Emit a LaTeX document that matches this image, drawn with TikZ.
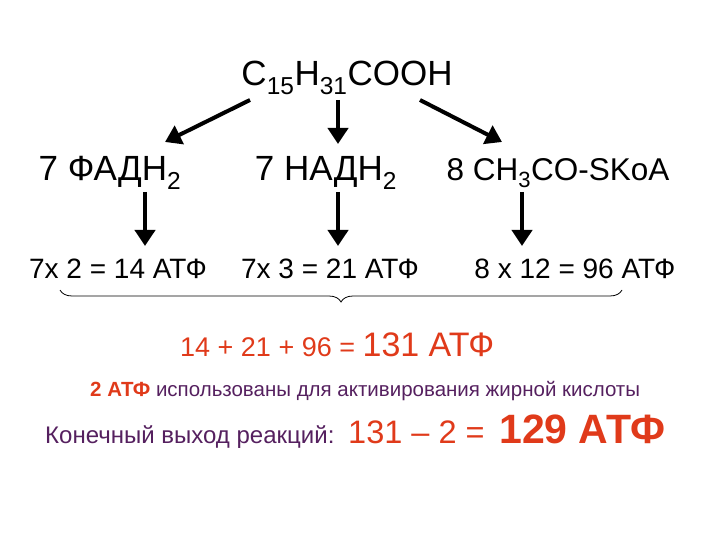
\documentclass[tikz,border=0pt]{standalone}
\usepackage{fontspec}
\setmainfont{Liberation Sans}
\usetikzlibrary{arrows.meta,decorations.pathreplacing}
\definecolor{ored}{HTML}{E03A1A}
\definecolor{purp}{HTML}{55205F}
\tikzset{arr/.style={line width=4pt,-{Triangle[length=16pt,width=20pt]}},
 t/.style={inner sep=0pt,anchor=base}}
\begin{document}
\begin{tikzpicture}[x=1pt,y=-1pt]
\useasboundingbox (0,0) rectangle (720,540);
\node[t] (top) at (347,86) {\fontsize{35}{40}\selectfont C\textsubscript{15}H\textsubscript{31}COOH};
\node[t] (f) at (110,181) {\fontsize{35}{40}\selectfont 7 ФАДН\textsubscript{2}};
\node[t] (n) at (326,181) {\fontsize{35}{40}\selectfont 7 НАДН\textsubscript{2}};
\node[t] (c) at (558,181) {\fontsize{31.5}{36}\selectfont 8 CH\textsubscript{3}CO-SKoA};
\node[t] (a1) at (118,278) {\fontsize{28}{32}\selectfont 7x 2 = 14 АТФ};
\node[t] (a2) at (330,278) {\fontsize{28}{32}\selectfont 7x 3 = 21 АТФ};
\node[t] (a3) at (575,278) {\fontsize{28}{32}\selectfont 8 x 12 = 96 АТФ};
\coordinate (s1) at (250,100); \coordinate (e1) at (165,142);
\coordinate (s2) at (338,100); \coordinate (e2) at (338,144);
\coordinate (s3) at (420,100); \coordinate (e3) at (502,142);
\draw[arr] (s1) -- (e1);
\draw[arr] (s2) -- (e2);
\draw[arr] (s3) -- (e3);
\coordinate (d1) at (145,192); \coordinate (g1) at (145,246);
\coordinate (d2) at (338,192); \coordinate (g2) at (338,246);
\coordinate (d3) at (522,192); \coordinate (g3) at (522,246);
\draw[arr] (d1) -- (g1);
\draw[arr] (d2) -- (g2);
\draw[arr] (d3) -- (g3);
\coordinate (b1) at (622,290); \coordinate (b2) at (60,290);
\draw[line width=0.8pt,decorate,decoration={brace,amplitude=12pt}] (b1) -- (b2);
\node[t,anchor=base west,text=ored] (sum) at (180,356) {\fontsize{27}{32}\selectfont 14 + 21 + 96 = \fontsize{34}{38}\selectfont 131 АТФ};
\node[t,anchor=base west,text=purp] (u) at (90,396) {\fontsize{20.5}{24}\selectfont\textcolor{ored}{\textbf{2 АТФ}} использованы для активирования жирной кислоты};
\node[t,anchor=base west,text=purp] (k) at (45,443) {\fontsize{24}{28}\selectfont Конечный выход реакций:};
\node[t,anchor=base west,text=ored] (r) at (348,443) {\fontsize{32.5}{38}\selectfont 131 – 2 =};
\node[t,anchor=base west,text=ored] (r2) at (499,443) {\fontsize{41}{46}\selectfont\bfseries 129 АТФ};
\end{tikzpicture}
\end{document}
